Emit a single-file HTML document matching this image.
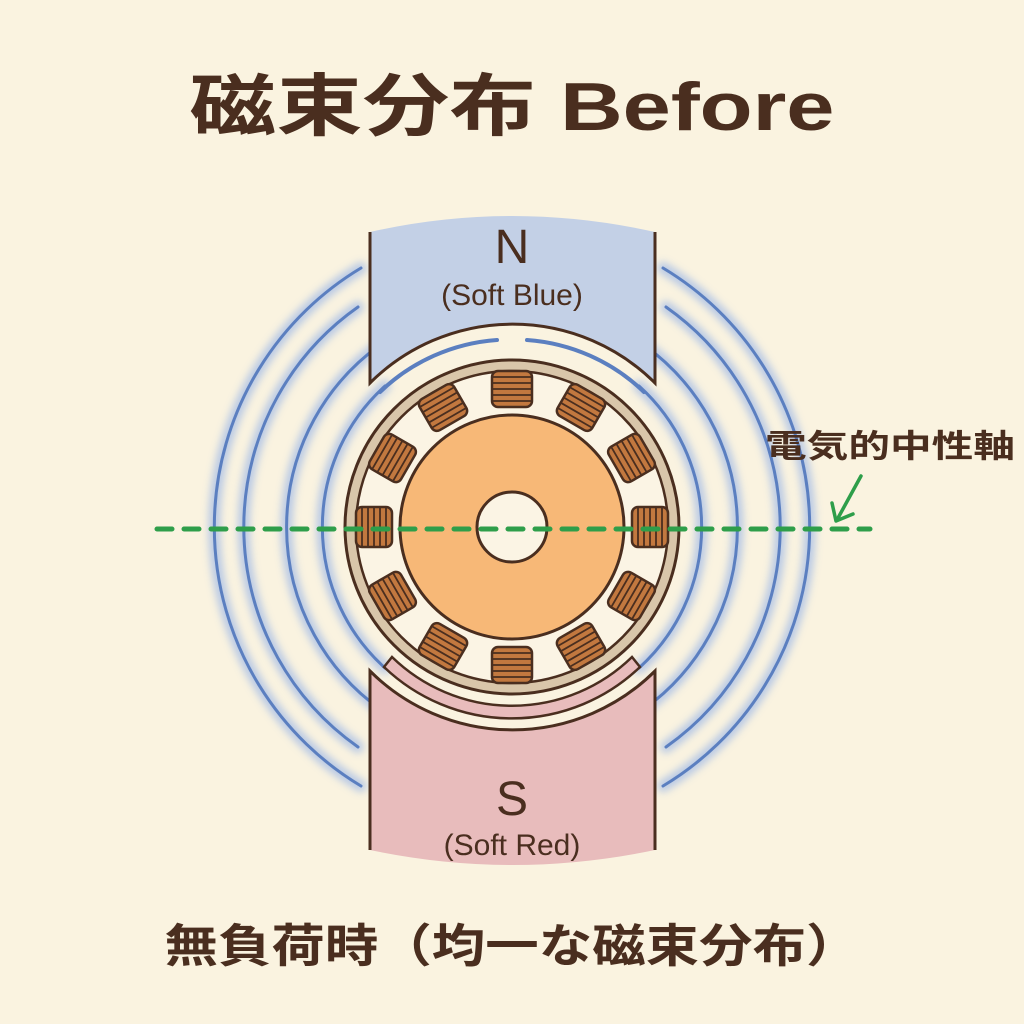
<!DOCTYPE html>
<html><head><meta charset="utf-8"><style>
html,body{margin:0;padding:0;background:#faf3e0;}
svg{display:block}
text{font-family:"Liberation Sans","Noto Sans CJK JP",sans-serif;fill:#4a2e1f}
</style></head><body>
<svg width="1024" height="1024" viewBox="0 0 1024 1024" xmlns="http://www.w3.org/2000/svg">
<defs>
<filter id="blur" x="-20%" y="-20%" width="140%" height="140%"><feGaussianBlur stdDeviation="4"/></filter>
<g id="coil">
<rect x="-20" y="-156" width="40" height="36" rx="6" fill="#c2783f" stroke="#4a2e1f" stroke-width="2.5"/>
<path d="M-19,-150H19M-19,-144H19M-19,-138H19M-19,-132H19M-19,-126H19" stroke="#4a2e1f" stroke-width="1.8"/>
</g>
</defs>
<rect width="1024" height="1024" fill="#faf3e0"/>
<text x="512" y="130" font-size="68" font-weight="bold" text-anchor="middle" textLength="645" lengthAdjust="spacingAndGlyphs">磁束分布 Before</text>

<g fill="none" stroke-linecap="round">
<g stroke="#a9bfe6" stroke-width="12" filter="url(#blur)" opacity="0.8">
<path d="M361,268 A302 302 0 0 0 361,786 M358,307 A269 269 0 0 0 358,747 M380,345 A224 224 0 0 0 380,709 M385,386 A190 190 0 0 0 385,668"/>
<path d="M663,268 A302 302 0 0 1 663,786 M666,307 A269 269 0 0 1 666,747 M644,345 A224 224 0 0 1 644,709 M639,386 A190 190 0 0 1 639,668"/>
</g>
<g stroke="#5b7fc0" stroke-width="3">
<path d="M361,268 A302 302 0 0 0 361,786 M358,307 A269 269 0 0 0 358,747 M380,345 A224 224 0 0 0 380,709 M385,386 A190 190 0 0 0 385,668"/>
<path d="M663,268 A302 302 0 0 1 663,786 M666,307 A269 269 0 0 1 666,747 M644,345 A224 224 0 0 1 644,709 M639,386 A190 190 0 0 1 639,668"/>
</g>
</g>

<path d="M370,232 Q512,200 655,232 L655,383 A202 202 0 0 0 370,383 Z" fill="#c3d0e6"/>
<path d="M370,232 L370,383 A202 202 0 0 1 655,383 L655,232" fill="none" stroke="#4a2e1f" stroke-width="3"/>
<text x="512" y="263" font-size="48" text-anchor="middle">N</text>
<text x="512" y="305" font-size="30" text-anchor="middle">(Soft Blue)</text>
<path d="M380,392 A188 188 0 0 1 497,340 M527,340 A188 188 0 0 1 644,392" fill="none" stroke="#5b7fc0" stroke-width="4" stroke-linecap="round"/>

<path d="M370,671 A202 202 0 0 0 655,671 L655,850 Q512,880 370,850 Z" fill="#e8bcbc"/>
<path d="M370,850 L370,671 A202 202 0 0 0 655,671 L655,850" fill="none" stroke="#4a2e1f" stroke-width="3"/>
<text x="512" y="815" font-size="48" text-anchor="middle">S</text>
<text x="512" y="855" font-size="30" text-anchor="middle">(Soft Red)</text>
<path d="M384,667 A185 185 0 0 0 640,667 L632,657 A172 172 0 0 1 392,657 Z" fill="#e8bcbc" stroke="#4a2e1f" stroke-width="2.5"/>

<circle cx="512" cy="527" r="167" fill="#d9c6aa" stroke="#4a2e1f" stroke-width="3"/>
<circle cx="512" cy="527" r="156" fill="#fbf4e4" stroke="#4a2e1f" stroke-width="2.5"/>
<g transform="translate(512,527)">
<use href="#coil" transform="rotate(0)"/><use href="#coil" transform="rotate(30)"/><use href="#coil" transform="rotate(60)"/>
<use href="#coil" transform="rotate(90)"/><use href="#coil" transform="rotate(120)"/><use href="#coil" transform="rotate(150)"/>
<use href="#coil" transform="rotate(180)"/><use href="#coil" transform="rotate(210)"/><use href="#coil" transform="rotate(240)"/>
<use href="#coil" transform="rotate(270)"/><use href="#coil" transform="rotate(300)"/><use href="#coil" transform="rotate(330)"/>
</g>
<circle cx="512" cy="527" r="112" fill="#f7b877" stroke="#4a2e1f" stroke-width="3"/>
<circle cx="512" cy="527" r="35" fill="#fbf4e4" stroke="#4a2e1f" stroke-width="3"/>

<line x1="157" y1="529" x2="870" y2="529" stroke="#2e9e4a" stroke-width="5" stroke-dasharray="15 12" stroke-linecap="round"/>
<path d="M861,476 L838,518" stroke="#2e9e4a" stroke-width="3.5" fill="none" stroke-linecap="round"/>
<path d="M832,503 L836,521 L853,514" stroke="#2e9e4a" stroke-width="3.5" fill="none" stroke-linecap="round" stroke-linejoin="round"/>
<text x="765" y="457" font-size="32" font-weight="bold" textLength="250" lengthAdjust="spacingAndGlyphs">電気的中性軸</text>

<text x="512" y="962" font-size="46" font-weight="bold" text-anchor="middle" textLength="695" lengthAdjust="spacingAndGlyphs">無負荷時（均一な磁束分布）</text>
</svg>
</body></html>
